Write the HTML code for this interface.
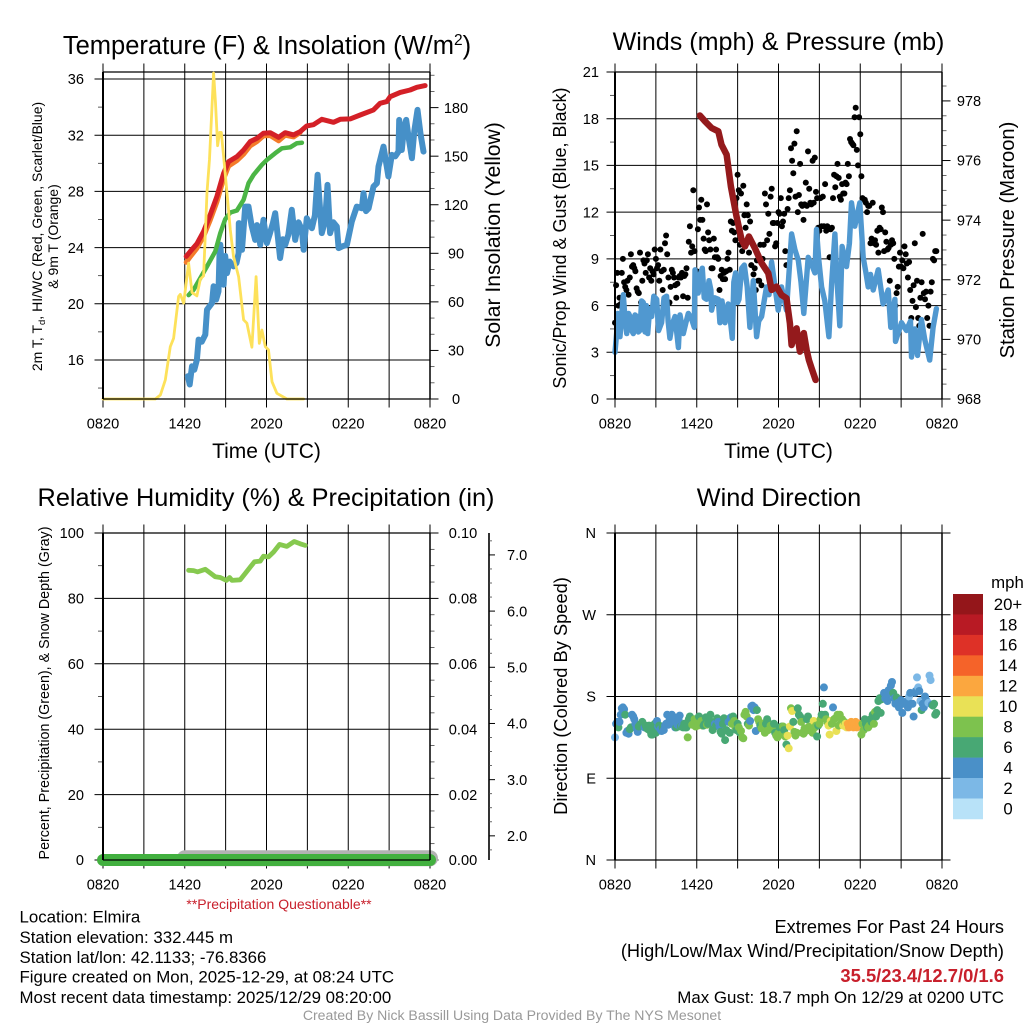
<!DOCTYPE html>
<html lang="en">
<head>
<meta charset="utf-8">
<title>Elmira Mesonet Meteogram</title>
<style>
html,body{margin:0;padding:0;background:#fff;}
svg{display:block;font-family:"Liberation Sans",sans-serif;fill:#000;}
</style>
</head>
<body>
<svg id="fig" xmlns="http://www.w3.org/2000/svg" width="1024" height="1024" viewBox="0 0 1024 1024">
<rect x="0" y="0" width="1024" height="1024" fill="#fff"/>
<g id="layer"></g>

<text x="267" y="54" font-size="25.5" text-anchor="middle">Temperature (F) &amp; Insolation (W/m<tspan dy="-9" font-size="15.5">2</tspan><tspan dy="9">)</tspan></text>
<text x="778.5" y="50" font-size="25.1" text-anchor="middle">Winds (mph) &amp; Pressure (mb)</text>
<text x="266" y="506" font-size="25.3" text-anchor="middle">Relative Humidity (%) &amp; Precipitation (in)</text>
<text x="779" y="506" font-size="25.3" text-anchor="middle">Wind Direction</text>

<text x="266.5" y="458" font-size="21" text-anchor="middle">Time (UTC)</text>
<text x="778.5" y="458" font-size="21" text-anchor="middle">Time (UTC)</text>

<text transform="translate(42 236.5) rotate(-90)" font-size="14" text-anchor="middle">2m T, T<tspan dy="3" font-size="9.5">d</tspan><tspan dy="-3">, HI/WC (Red, Green, Scarlet/Blue)</tspan></text>
<text transform="translate(58 236.5) rotate(-90)" font-size="14" text-anchor="middle">&amp; 9m T (Orange)</text>
<text transform="translate(500 235) rotate(-90)" font-size="21.1" text-anchor="middle">Solar Insolation (Yellow)</text>
<text transform="translate(566 238) rotate(-90)" font-size="18" text-anchor="middle">Sonic/Prop Wind &amp; Gust (Blue, Black)</text>
<text transform="translate(1014 240) rotate(-90)" font-size="20.2" text-anchor="middle">Station Pressure (Maroon)</text>
<text transform="translate(49 693) rotate(-90)" font-size="14.3" text-anchor="middle">Percent, Precipitation (Green), &amp; Snow Depth (Gray)</text>
<text transform="translate(567 696) rotate(-90)" font-size="18.3" text-anchor="middle">Direction (Colored By Speed)</text>

<text x="279" y="909" font-size="14" fill="#c8202c" text-anchor="middle">**Precipitation Questionable**</text>

<text x="19.5" y="922.7" font-size="16.85">Location: Elmira</text>
<text x="19.5" y="943" font-size="16.85">Station elevation: 332.445 m</text>
<text x="19.5" y="963" font-size="16.85">Station lat/lon: 42.1133; -76.8366</text>
<text x="19.5" y="982.7" font-size="16.85">Figure created on Mon, 2025-12-29, at 08:24 UTC</text>
<text x="19.5" y="1003" font-size="16.85">Most recent data timestamp: 2025/12/29 08:20:00</text>

<text x="1004" y="933" font-size="18.2" text-anchor="end">Extremes For Past 24 Hours</text>
<text x="1004" y="957" font-size="18.2" text-anchor="end">(High/Low/Max Wind/Precipitation/Snow Depth)</text>
<text x="1004" y="982" font-size="18.4" font-weight="bold" fill="#c8202c" text-anchor="end">35.5/23.4/12.7/0/1.6</text>
<text x="1004" y="1003" font-size="16.9" text-anchor="end">Max Gust: 18.7 mph On 12/29 at 0200 UTC</text>
<text x="512" y="1020" font-size="14.08" fill="#999" text-anchor="middle">Created By Nick Bassill Using Data Provided By The NYS Mesonet</text>
</svg>

<script>
// ---- shared axis data ----
const xTickHours = [0,3,6,9,12,15,18,21,24];
const xLabelHours = [0,6,12,18,24];
const xLabels = ['0820','1420','2020','0220','0820'];

const tempTicks = [16,20,24,28,32,36];
const tempMinor = [14,18,22,26,30,34];
const solarTicks = [0,30,60,90,120,150,180];
const solarMinor = [10,20,40,50,70,80,100,110,130,140,160,170,190,200];
const windTicks = [0,3,6,9,12,15,18,21];
const windMinor = [1.5,4.5,7.5,10.5,13.5,16.5,19.5];
const pressTicks = [968,970,972,974,976,978];
const pressMinor = [968.5,969,969.5,970.5,971,971.5,972.5,973,973.5,974.5,975,975.5,976.5,977,977.5,978.5];
const rhTicks = [0,20,40,60,80,100];
const rhMinor = [10,30,50,70,90];
const precipTicks = [0,0.02,0.04,0.06,0.08,0.1];
const precipLabels = ['0.00','0.02','0.04','0.06','0.08','0.10'];
const precipMinor = [0.005,0.01,0.015,0.025,0.03,0.035,0.045,0.05,0.055,0.065,0.07,0.075,0.085,0.09,0.095];
const snowTicks = [2,3,4,5,6,7];
const snowLabels = ['2.0','3.0','4.0','5.0','6.0','7.0'];
const snowMinor = [1.75,2.25,2.5,2.75,3.25,3.5,3.75,4.25,4.5,4.75,5.25,5.5,5.75,6.25,6.5,6.75,7.25];
const dirTicks = [0,90,180,270,360];
const dirLabels = ['N','E','S','W','N'];

// ---- temperature panel series ----
const redHours = [6.11,6.41,6.89,7.38,7.87,8.36,8.85,9.22,9.83,10.32,10.81,11.3,11.78,12.27,12.89,13.37,13.99,14.47,14.96,15.45,16.06,16.92,17.41,18.14,18.88,19.85,20.34,20.83,21.08,21.81,22.54,23.03,23.64];
const redTemp = [23.37,23.73,24.27,25.15,26.33,27.64,29.29,30.12,30.48,30.95,31.55,31.78,32.14,32.18,31.85,32.18,32.02,32.26,32.66,32.75,33.13,32.92,33.13,33.16,33.44,33.8,34.27,34.39,34.74,35.05,35.22,35.41,35.53];
const orangeHours = [6.11,6.41,6.89,7.38,7.87,8.36,8.85,9.22,9.83,10.32,10.81,11.3,11.78,12.27,12.89,13.37,13.99,14.47];
const orangeTemp = [22.95,23.35,23.95,24.8,25.95,27.25,28.9,29.8,30.2,30.65,31.25,31.55,31.95,31.98,31.6,32.0,31.88,32.2];
const greenHours = [6.28,6.65,7.14,7.63,8.24,8.61,8.97,9.34,9.83,10.32,10.68,11.05,11.66,12.03,12.64,13.13,13.74,14.23,14.6];
const greenTemp = [20.62,21,21.83,22.66,23.73,25.03,26.02,26.5,26.64,27.4,28.58,29.18,29.89,30.24,30.72,31.07,31.14,31.43,31.47];
const chillHours = [6.23,6.36,6.53,6.7,6.89,7.02,7.25,7.51,7.63,8,8.12,8.3,8.48,8.55,8.61,8.72,8.85,8.97,9.1,9.3,9.58,9.8,9.95,9.97,10.2,10.44,10.68,10.9,11.17,11.3,11.42,11.54,11.78,12.03,12.25,12.47,12.64,12.85,13,13.2,13.37,13.6,13.86,14.11,14.35,14.6,14.72,14.96,15.33,15.55,15.75,16.06,16.3,16.48,16.67,16.9,17.16,17.29,17.6,17.9,18.26,18.63,19,19.12,19.3,19.49,19.85,20.1,20.22,20.59,20.95,21.2,21.45,21.69,21.74,21.85,21.93,22.1,22.25,22.45,22.67,22.85,23.08,23.3,23.52];
const chillTemp = [14.84,14.25,15.55,15.3,16.02,17.45,17.3,17.8,19.58,20.05,21.24,20.3,20.88,23.5,24.2,22.6,21.36,23.4,22.18,23.0,22.66,22.9,23.6,25.74,23.84,26.92,26.92,25.6,24.55,25.6,25.27,24.2,25.98,24.32,25.0,25.74,26.45,24.6,23.25,24.6,24.2,24.9,26.69,24.55,25.8,25.27,23.84,26.09,25.38,26.3,29.18,25.03,25.9,28.46,25.03,25.8,25.5,23.96,24.1,24.2,25.86,26.92,26.8,27.87,26.6,26.8,28.35,28.58,29.77,31.19,29.06,30.6,30.5,30.83,33.09,31.0,30.95,32.6,33.09,31.7,30.36,32.3,33.8,32.1,30.83];
const solarHours = [0,3.84,4.21,4.57,4.94,5.18,5.55,5.67,5.92,6.28,6.53,6.89,7.14,7.38,7.63,7.82,8.12,8.26,8.41,8.56,8.68,8.85,9.1,9.34,9.58,9.95,10.32,10.56,10.93,11.24,11.47,11.66,11.91,12.15,12.4,12.76,13.5,14.72];
const solarValues = [0,0,2.5,11.75,32.4,37.5,63.3,64.7,59.2,83.9,65.8,63.7,74,76.1,127.6,148.2,201.4,182.9,156.5,164.7,164.7,149.9,127.2,104.5,88,75.6,48.9,46.8,32,75.6,34.4,42.6,32.4,30.3,10.7,3.5,0,0];

// ---- wind panel series ----
const gustMph = [
4.9,7.3,8.1,6.0,6.5,6.1,8.1,9.0,7.5,7.2,7.0,7.6,6.7,7.8,9.3,8.5,8.6,8.4,8.2,7.1,6.9,6.8,9.4,6.2,7.6,8.9,8.7,8.1,8.9,9.3,7.8,8.4,7.6,8.2,8.0,9.6,
9.0,8.4,8.6,7.6,9.6,8.2,7.0,8.3,10.0,10.5,9.3,7.8,6.2,7.2,8.3,8.1,7.8,7.3,6.5,7.4,7.8,7.9,7.8,8.1,6.6,7.9,8.0,8.4,6.5,10.1,11.1,9.4,9.8,13.4,9.5,8.2,
8.2,10.9,12.3,11.5,12.8,11.5,10.3,9.6,9.5,12.5,10.7,10.2,9.6,8.4,8.4,10.3,9.1,9.6,9.1,9.0,7.0,7.9,8.3,7.7,8.1,7.7,8.2,9.0,9.4,8.3,11.4,10.8,11.3,10.7,10.2,12.9,
14.4,13.4,9.9,13.2,9.5,13.7,11.8,11.0,12.5,11.8,9.4,11.4,8.6,6.6,8.0,8.4,7.0,8.9,7.6,7.6,9.9,7.3,9.0,9.9,13.2,12.5,10.2,11.9,10.6,13.0,13.5,11.3,11.3,9.8,10.0,11.3,
12.0,11.9,12.9,11.1,11.4,11.9,9.5,8.6,12.2,12.9,13.4,16.1,15.3,14.5,16.4,13.0,17.2,12.0,13.1,15.1,12.5,12.4,11.5,12.5,13.9,12.4,15.9,13.5,12.6,12.5,15.3,12.6,15.5,13.3,12.9,11.0,
10.8,12.9,11.1,13.0,11.1,13.8,10.8,11.1,10.9,9.1,10.9,11.0,12.9,14.4,13.6,14.3,15.1,14.2,13.0,12.8,13.8,13.2,13.2,13.9,13.8,15.1,14.3,16.7,16.5,16.4,16.3,18.1,18.7,16.0,15.0,18.1,
17.0,14.3,12.9,12.8,12.8,12.6,12.0,12.4,12.4,10.0,10.3,12.6,10.0,10.2,9.9,10.8,9.4,11.0,10.9,12.3,12.0,9.5,10.7,10.1,9.6,9.7,7.6,9.9,10.2,10.0,9.0,6.0,6.8,7.2,8.5,9.4,
8.5,8.9,8.4,9.8,9.3,8.7,7.8,8.8,7.0,5.2,6.3,7.3,10.0,5.9,7.6,5.2,4.7,6.5,7.5,10.6,6.8,6.4,6.9,5.2,6.0,4.7,6.9,7.5,9.0,8.9,9.5,9.5];
const windHours = [0,0.12,0.2,0.37,0.5,0.61,0.75,0.86,1.0,1.1,1.22,1.34,1.47,1.59,1.72,1.83,1.95,2.08,2.2,2.3,2.4,2.55,2.69,2.85,3.06,3.2,3.42,3.6,3.79,3.9,4.03,4.2,4.4,4.65,4.77,5.01,5.2,5.38,5.6,5.82,5.87,6,6.11,6.25,6.41,6.55,6.72,6.9,7.04,7.09,7.3,7.58,7.7,7.85,8.07,8.31,8.45,8.61,8.72,8.85,9,9.1,9.3,9.49,9.7,9.9,10.15,10.39,10.55,10.76,11.12,11.3,11.49,11.74,11.98,12.22,12.59,12.96,13.2,13.45,13.65,13.86,14.18,14.45,14.67,14.79,14.95,15.16,15.4,15.7,15.9,16.14,16.3,16.5,16.67,16.99,17.2,17.36,17.6,17.97,18.22,18.4,18.58,18.75,18.95,19.32,19.68,20.05,20.24,20.54,20.59,21.03,21.39,21.69,21.76,22,22.2,22.49,22.74,23.1,23.35,23.59];
const windMph = [3,4.2,5.5,4,5.5,6.7,5,4.2,5.5,5.3,4.4,4.2,5.4,5.3,4.3,4.4,6.3,6.2,4.3,6,4.2,5.8,5.3,6.6,6.4,4.4,4.9,6.5,6.6,5,3.9,4.8,5.3,3.3,5.4,4.2,4.9,5.5,5.2,4.6,8.3,6.9,6.8,8,8.4,6.5,6.4,7.6,7,5.7,6.5,6.4,4.9,6.3,4.9,6.1,5.2,3.9,7.5,8.1,6.2,6.4,8.4,8.6,7.2,4.6,7.6,4,5,5.3,7.2,6.7,8.8,7.2,5.7,7.2,5.7,10.6,9.6,8.9,7.5,5.5,9.1,8.6,8.1,10.9,9,7.2,6.3,4,7.4,10.6,7.5,4.7,9.8,8.5,10,12.6,11.1,12.6,9.1,8.2,7.2,8,7,8.3,6.1,7,4.6,6.4,3.7,4.9,4.4,5,2.7,4.5,2.8,5.1,3.8,2.5,4.6,5.8];
const pressHours = [6.23,6.6,7.09,7.58,7.82,8.19,8.51,8.92,9.29,9.54,9.83,10.27,10.76,11.25,11.49,11.86,12.22,12.59,12.84,12.96,13.33,13.57,13.86,14.06,14.23,14.43,14.72];
const pressMb = [977.51,977.32,977.09,976.98,976.53,976.2,975.13,974.13,973.34,973.12,973.45,973.06,972.56,972.22,971.66,971.77,971.49,971.38,970.54,969.81,970.37,969.59,970.21,969.65,969.31,969.03,968.64];

// ---- humidity panel series ----
const rhHours = [6.28,6.65,6.94,7.51,7.87,8.24,8.61,9.05,9.29,9.46,10.07,10.44,10.81,11.12,11.54,11.78,12.15,12.52,12.96,13.5,14.03,14.47,14.84];
const rhValues = [88.6,88.5,88.1,88.9,87.8,86.6,86.4,85.5,86.4,85.5,85.7,87.6,89.6,91.2,91.4,92.9,92.7,94.2,96.5,95.9,97.4,96.7,96.2];
const precipHours = [0,24];
const precipValues = [0,0];
const snowHours = [6,24];
const snowValues = [1.6,1.6];

// ---- wind direction series (one reading per 5 minutes) ----
const dirDegrees = [
135,150,152,146,152,160,167,168,166,160,140,142,139,144,146,160,158,155,150,145,141,147,149,150,152,147,146,148,145,144,148,142,138,138,148,150,
140,153,147,148,144,142,146,143,148,150,160,149,154,150,160,158,151,146,146,149,155,159,147,148,146,150,146,146,135,155,158,153,149,149,155,147,
153,148,158,150,153,148,148,150,157,149,150,153,160,152,143,146,150,148,156,152,147,141,139,150,156,132,143,155,152,140,157,150,158,153,146,143,
150,146,140,142,135,134,160,163,158,150,148,153,169,170,165,168,142,165,155,152,148,145,150,145,140,150,155,143,150,148,146,145,150,140,137,135,
140,146,138,147,147,143,136,127,137,123,147,167,164,152,141,137,140,167,160,158,152,140,139,145,142,155,158,147,146,142,140,153,146,148,136,148,
150,155,160,172,190,160,155,152,148,138,153,150,168,155,156,142,160,148,160,150,155,148,152,150,146,150,146,150,152,150,146,150,152,146,148,150,
148,138,150,143,155,150,146,146,148,155,152,160,150,163,158,165,175,178,162,177,180,184,178,180,175,187,183,192,196,184,178,172,179,173,168,172,
176,162,172,174,174,171,168,180,184,172,172,158,184,186,201,190,186,175,165,172,168,180,176,173,173,203,198,171,170,172,160,162];
const dirSpeed = [
2,4,4,6,4,4,4,4,4,6,4,4,4,6,6,4,4,4,4,4,4,6,6,6,6,6,4,6,6,6,6,6,6,6,6,6,
6,4,4,6,4,4,6,4,4,4,4,4,4,4,4,4,4,4,6,4,4,4,6,4,6,6,6,6,8,6,6,6,8,8,8,8,
8,8,6,8,8,8,6,6,6,8,6,6,6,6,6,6,4,6,6,4,4,6,6,6,6,6,6,6,4,6,4,8,6,8,8,6,
6,8,6,8,8,8,8,8,8,6,8,4,4,4,4,4,4,6,8,8,6,8,8,8,8,6,6,8,6,8,8,8,6,6,8,8,
8,6,8,6,8,6,8,6,10,10,10,8,10,6,8,8,8,6,6,6,8,8,8,8,8,6,6,8,8,8,8,10,8,8,6,6,
8,8,6,6,4,6,8,8,10,10,10,8,4,8,8,10,8,8,8,8,8,10,8,10,10,12,12,12,12,12,12,12,12,12,12,12,
12,8,8,8,6,6,6,8,8,6,6,6,8,8,6,6,6,6,6,6,6,4,4,4,4,4,4,4,4,6,4,4,6,4,4,4,
4,4,4,4,4,4,4,2,4,4,4,4,4,4,2,2,4,2,6,4,4,4,4,4,2,2,2,4,6,6,6,6];

// ---- colour bar ----
const legendLabels = ['20+','18','16','14','12','10','8','6','4','2','0'];
const legendColors = ['#94161a','#b81a24','#de3127','#f56329','#fba73f','#e9e156','#7dc24e','#48a874','#4a90c8','#7cb8e6','#b8e2f8'];

// ---- drawing ----
const NS = 'http://www.w3.org/2000/svg';
const layer = document.getElementById('layer');
const plotW = 327;

function hourX(left, h){ return left + h * plotW / 24; }
function linearY(min, max, top, bottom){
  return function(v){ return bottom - (v - min) * (bottom - top) / (max - min); };
}
function add(tag, name, interactable){
  const el = document.createElementNS(NS, tag);
  
  
  layer.appendChild(el);
  return el;
}
function seg(name, x1, y1, x2, y2, w, color){
  const l = add('line', name, 'false');
  l.setAttribute('x1', x1);
  l.setAttribute('y1', y1);
  l.setAttribute('x2', x2);
  l.setAttribute('y2', y2);
  l.setAttribute('stroke', color || '#000');
  l.setAttribute('stroke-width', w);
  return l;
}
function label(name, x, y, txt, anchor, size){
  const t = add('text', name, 'false');
  t.setAttribute('x', x);
  t.setAttribute('y', y);
  t.setAttribute('text-anchor', anchor);
  t.setAttribute('font-size', size || 14.6);
  t.textContent = txt;
  return t;
}
function frame(key, left, top, bottom, yS, ticks, labels, minor, labelGap){
  const right = left + plotW;
  xTickHours.forEach(function(h){
    seg(key + '-x-grid-line', hourX(left, h), top - 8.5, hourX(left, h), bottom + 8.5, 1);
  });
  seg(key + '-plot-top-border', left, top, right, top, 1.2);
  ticks.forEach(function(v){
    seg(key + '-y-grid-line', left - 8.5, yS(v), right, yS(v), 1);
  });
  minor.forEach(function(v){
    seg(key + '-y-minor-tick', left - 5, yS(v), left, yS(v), 0.8, '#333');
  });
  ticks.forEach(function(v, i){
    label(key + '-y-tick-label', left - labelGap, yS(v) + 5.2, labels[i], 'end');
  });
  xLabelHours.forEach(function(h, i){
    label(key + '-x-tick-label', hourX(left, h), bottom + 29.5, xLabels[i], 'middle');
  });
}
function rightAxis(key, left, yS, ticks, labels, minor, labelCenter){
  const right = left + plotW;
  ticks.forEach(function(v, i){
    seg(key + '-right-major-tick', right, yS(v), right + 8.5, yS(v), 1);
    if (labels[i]) {
      label(key + '-right-tick-label', labelCenter, yS(v) + 5.2, labels[i], 'middle');
    }
  });
  minor.forEach(function(v){
    seg(key + '-right-minor-tick', right, yS(v), right + 4.5, yS(v), 0.8, '#444');
  });
}
function borders(key, left, top, bottom){
  seg(key + '-left-axis', left, top, left, bottom, 2);
  seg(key + '-right-axis', left + plotW, top, left + plotW, bottom, 1.5);
  seg(key + '-bottom-axis', left, bottom, left + plotW, bottom, 1.2);
}
function polyline(name, left, yS, hours, values, color, width){
  const p = add('polyline', name, 'false');
  const pts = hours.map(function(h, i){ return hourX(left, h).toFixed(1) + ',' + yS(values[i]).toFixed(1); });
  p.setAttribute('points', pts.join(' '));
  p.setAttribute('fill', 'none');
  p.setAttribute('stroke', color);
  p.setAttribute('stroke-width', width);
  p.setAttribute('stroke-linejoin', 'round');
  p.setAttribute('stroke-linecap', 'round');
  return p;
}
function dot(name, cx, cy, r, color){
  const c = add('circle', name, 'false');
  c.setAttribute('cx', cx);
  c.setAttribute('cy', cy);
  c.setAttribute('r', r);
  c.setAttribute('fill', color);
  return c;
}

// Panel 1: temperature and insolation
const P1 = {left:103, top:72, bottom:399};
const tempY = linearY(13.22, 36.5, P1.top, P1.bottom);
const solarY = linearY(0, 202, P1.top, P1.bottom);
frame('temperature', P1.left, P1.top, P1.bottom, tempY, tempTicks, tempTicks.map(String), tempMinor, 19);
rightAxis('solar', P1.left, solarY, solarTicks, solarTicks.map(String), solarMinor, 456);
polyline('wind-chill-line', P1.left, tempY, chillHours, chillTemp, '#4690c8', 6);
polyline('temperature-9m-line', P1.left, tempY, orangeHours, orangeTemp, '#f47b2a', 5);
polyline('temperature-2m-line', P1.left, tempY, redHours, redTemp, '#d42027', 5);
polyline('dew-point-line', P1.left, tempY, greenHours, greenTemp, '#4bb545', 4.5);
polyline('solar-insolation-line', P1.left, solarY, solarHours, solarValues, '#fde15a', 2.8);
borders('temperature', P1.left, P1.top, P1.bottom);

// Panel 2: winds and pressure
const P2 = {left:615, top:72, bottom:399};
const windY = linearY(0, 21, P2.top, P2.bottom);
const pressY = linearY(968, 978.97, P2.top, P2.bottom);
frame('winds', P2.left, P2.top, P2.bottom, windY, windTicks, windTicks.map(String), windMinor, 16);
rightAxis('pressure', P2.left, pressY, pressTicks, pressTicks.map(String), pressMinor, 969);
gustMph.forEach(function(v, i){
  dot('gust-point', hourX(P2.left, i / 12).toFixed(1), windY(v).toFixed(1), 3, '#000');
});
polyline('sonic-wind-line', P2.left, windY, windHours, windMph, '#5098d0', 5.4);
polyline('station-pressure-line', P2.left, pressY, pressHours, pressMb, '#941a1c', 6.5);
borders('winds', P2.left, P2.top, P2.bottom);

// Panel 3: humidity, precipitation, snow depth
const P3 = {left:103, top:533, bottom:860};
const rhY = linearY(0, 100, P3.top, P3.bottom);
const precipY = linearY(0, 0.1, P3.top, P3.bottom);
const snowY = linearY(1.57, 7.39, P3.top, P3.bottom);
frame('humidity', P3.left, P3.top, P3.bottom, rhY, rhTicks, rhTicks.map(String), rhMinor, 19);
rightAxis('precipitation', P3.left, precipY, precipTicks, precipLabels, precipMinor, 463);
seg('snow-depth-axis', 489, P3.top, 489, P3.bottom, 1.6);
snowTicks.forEach(function(v, i){
  seg('snow-depth-major-tick', 489, snowY(v), 495, snowY(v), 1);
  label('snow-depth-tick-label', 507, snowY(v) + 5.2, snowLabels[i], 'start');
});
snowMinor.forEach(function(v){
  seg('snow-depth-minor-tick', 489, snowY(v), 492, snowY(v), 0.8, '#444');
});
polyline('snow-depth-line', P3.left, snowY, snowHours, snowValues, '#b2b2b2', 16);
polyline('precipitation-line', P3.left, precipY, precipHours, precipValues, '#42b03f', 12);
polyline('relative-humidity-line', P3.left, rhY, rhHours, rhValues, '#86c94f', 4.8);
borders('humidity', P3.left, P3.top, P3.bottom);

// Panel 4: wind direction
const P4 = {left:615, top:533, bottom:860};
const dirY = linearY(0, 360, P4.top, P4.bottom);
frame('direction', P4.left, P4.top, P4.bottom, dirY, dirTicks, dirLabels, [], 19);
rightAxis('direction', P4.left, dirY, dirTicks, ['', '', '', '', ''], [], 969);
dirDegrees.forEach(function(v, i){
  const s = dirSpeed[i];
  const bin = Math.min(10, Math.round(s / 2));
  dot('wind-direction-point', hourX(P4.left, i / 12).toFixed(1), dirY(v).toFixed(1), 4, legendColors[10 - bin]);
});
borders('direction', P4.left, P4.top, P4.bottom);

// Colour bar
const barTop = 594, barCell = 20.45;
label('colorbar-unit-label', 1007.5, 588, 'mph', 'middle', 16.8);
legendLabels.forEach(function(t, i){
  const r = add('rect', 'colorbar-swatch-' + t, 'false');
  r.setAttribute('x', 953);
  r.setAttribute('y', barTop + i * barCell);
  r.setAttribute('width', 30);
  r.setAttribute('height', barCell + 0.3);
  r.setAttribute('fill', legendColors[i]);
  label('colorbar-label', 1008, barTop + i * barCell + 15.8, t, 'middle', 16.8);
});
</script>
</body>
</html>
